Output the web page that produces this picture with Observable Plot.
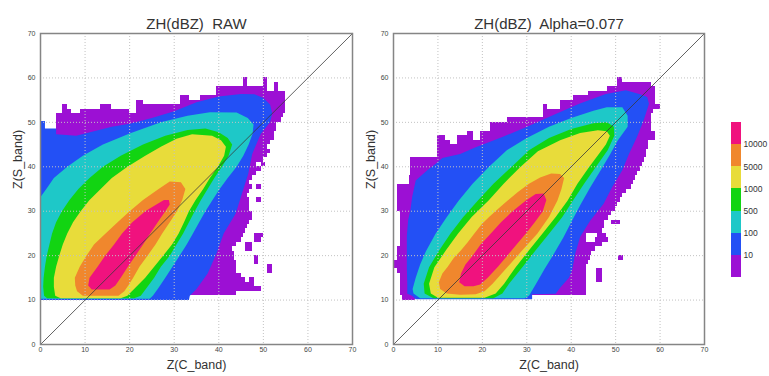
<!DOCTYPE html>
<html><head><meta charset="utf-8">
<script src="https://cdn.jsdelivr.net/npm/d3@7"></script>
<script src="https://cdn.jsdelivr.net/npm/@observablehq/plot@0.6"></script>
<style>
body{margin:0;background:#fff;}
#wrap{position:relative;width:769px;height:376px;overflow:hidden;font-family:"Liberation Sans",Arial,sans-serif;}
#wrap > div{position:absolute;}
</style></head><body>
<div id="wrap"><div id="p1" style="left:0;top:0"></div><div id="p2" style="left:353px;top:0"></div><div id="leg" style="left:720px;top:100px"></div></div>
<script>
// ---- data ----
const tickVals = [0, 10, 20, 30, 40, 50, 60, 70];
const gridVals = [10, 20, 30, 40, 50, 60];
const diag = [0, 70];
const legendLabels = ["10", "100", "500", "1000", "5000", "10000"];
const colPurple = "#9c10d4", colBlue = "#2350f5", colCyan = "#1ec8c8", colGreen = "#12d412",
      colYellow = "#e8dc3a", colOrange = "#f0872d", colPink = "#f0127e";
const legendColors = [colPurple, colBlue, colCyan, colGreen, colYellow, colOrange, colPink];

// RAW panel: count >= 1 cells as [row y, x1, x2]
const rawPurple = [
 [11,0,44],[12,0,49.5],[13,0,48],[14,0,46],[14,47,48],[15,0,45],[16,0,44],[16,51,52],[17,0,44],[17,51,52],
 [18,0,44],[18,48,49],[19,0,43.5],[19,48,49],[20,0,43.5],[21,0,43],[21,46,47.5],[22,0,44],[22,46,47.5],
 [23,0,45],[23,48,49.5],[24,0,45.5],[24,48,50],[25,0,46],[26,0,46.5],[27,0,47],[28,0,47.5],[29,0,47.5],
 [30,0,47],[31,0,47],[32,0,47],[32,48.5,49.5],[33,0,46.5],[34,0,47],[35,0,47.5],[35,48.5,49.5],[36,0,47],
 [37,0,47.5],[38,0,48.5],[39,0,49.5],[40,0,48.5],[40,49.5,50.5],[41,0,50],[42,0,51],[43,0,51.5],[44,0,51],
 [45,0,51.5],[46,0,52.5],[47,3.5,52.5],[48,3.5,53],[49,3.5,53],[50,3.5,54],[51,3.5,54.5],
 [52,5,7],[52,9,20],[52,21.5,55],[53,5,6],[53,13.5,16],[53,21.5,55],[54,21.5,23],[54,31.5,55],
 [55,31.5,33.5],[55,36,55],[56,39.5,55],[57,39.5,51],[57,52.5,53.5],[58,45.5,46.5],[58,50,51],[58,52.5,53.5],
 [59,45.5,46.5],[59,50,51]
];
const rawBlue = [[0,10],[33.3,10],[33.5,11],[35,12.5],[37.5,16],[39.5,20.5],[41.1,25],[43.8,29.5],[45.2,34],[46.6,38.4],[47.5,42.9],[49.4,47.4],[51.5,50],[52,52],[51.5,54],[50,55.5],[48,56.3],[45,56.4],[40,55.8],[35,54.5],[30,52.5],[25,51],[20,49.7],[16,49],[12,48],[8,47],[3.5,47.3],[3.5,48.6],[1,48.6],[1,50.3],[0,50.3]];
const rawCyan = [[0,10.3],[24.5,10.3],[25.2,11],[26.3,12.5],[28,15],[29.6,17.5],[31.2,20],[32.8,22.5],[34.2,25],[35.6,27.5],[37,30],[38.6,32.5],[40.2,35],[42,37.5],[44,40],[45.5,42.5],[46.7,45],[47.6,47.5],[47.8,49.5],[46.5,51],[44,52.2],[38,52.3],[33,51.5],[27,50],[20,47.5],[14,45],[9.5,42.5],[6,40],[3,37.5],[1.3,35],[0,33.2]];
const rawGreen = [[1.5,10.4],[21,10.4],[22.5,11],[24,13],[25.5,15],[27,17.5],[29,20],[30.5,22.5],[32,25],[33.3,27.5],[34.6,30],[36,32.5],[37.5,35],[39,37.5],[40.7,40],[42.2,42.5],[43,45],[42,46.5],[40,47.8],[37,48.6],[33,48.3],[28,47],[23,45],[18,42.5],[14,40],[11,37.5],[8.5,35],[6.5,32.5],[4.8,30],[3.5,27.5],[2.6,25],[2,22.5],[1.4,20],[1,17.5],[0.7,15],[0.6,13],[0.8,11]];
const rawYellow = [[4.5,10.4],[18,10.4],[19.5,11],[21.5,13],[23.5,15],[25.5,17.5],[27.5,20],[29.5,22.5],[31,25],[32.2,27.5],[33.3,30],[34.8,32.5],[36.5,35],[38,37.5],[39.8,40],[41.2,42.5],[41.6,44.5],[40.5,46],[38.5,47],[34,47.3],[30.5,46.3],[27,44.5],[23.5,42.5],[19.5,40],[16,37.5],[13.5,35],[11,32.5],[9,30],[7.3,27.5],[6,25],[5,22.5],[4.2,20],[3.5,17.5],[3,15],[3,13],[3.3,11]];
const rawOrange = [[9.5,11],[17.5,11],[18.8,12],[19.7,13.3],[20.8,15],[22.2,17.5],[24,20],[25.8,22.5],[27.3,25],[29,27.5],[30.6,30],[31.8,32.5],[32.5,35],[31.5,36.5],[29,36.7],[26.5,35],[23,32.5],[20,30],[17.3,27.5],[14.6,25],[12,22.5],[10.3,20],[8.8,17.5],[7.7,15],[7.8,13.3],[8.2,12]];
const rawPink = [[11.5,12.4],[15.5,12.4],[16.8,13.3],[18,15],[19.6,17.5],[21.3,20],[23,22.5],[24.6,25],[26.3,27.5],[28,30],[29,31.5],[28.8,32.5],[27.7,32.5],[26,31.5],[23.5,30],[20.6,27.5],[18.3,25],[16.5,22.5],[14.5,20],[12.8,17.5],[11,15],[10.7,13.3]];

// Alpha=0.077 panel
const alphaPurple = [
 [10,2,5],[11,1.5,43.5],[12,1.5,43.5],[13,1.5,43.5],[14,1.5,43.5],[14,45.8,47],[15,1.5,43.5],[15,45.8,47],
 [16,1,43.5],[16,45.8,47],[17,0,43.5],[18,0,44],[19,1,44.3],[19,50.7,51.8],[20,1,44.5],[21,1,45.5],[22,1.5,47],
 [23,1.5,43.5],[23,45.5,48.5],[24,1.5,43.5],[24,46,48],[25,1.5,47],[26,1.5,47.5],[27,1.5,47.5],[27,49,51],
 [28,1.5,48.5],[29,1.5,49],[30,1,50],[31,1,50.5],[32,1,51],[33,1,51.5],[34,1,52.5],[35,1,53.5],
 [36,3.5,54],[37,3.5,54.5],[38,3.8,55],[39,3.8,55.5],[40,3.8,56],[41,3.8,56.5],
 [42,10,57],[43,10,57],[44,10,57.5],[45,10,12.8],[45,14.3,57.5],[46,10,11.7],[46,14.3,18],[46,19.6,59],
 [47,16.6,18],[47,19.6,59],[48,21.8,58],[49,21.8,58],[50,25.6,58],[51,33.8,58],[52,33.8,58.5],
 [53,33.8,34.6],[53,37.6,60],[54,37.6,59],[55,40.6,59],[56,43.9,59],[57,48.1,59],[58,50.4,58],[59,50.4,51.5]
];
const alphaBlue = [[5,10.2],[31.2,10.2],[31.2,11.3],[36.5,11.4],[37.6,12.9],[39.5,15],[40.2,16.7],[40.9,20.4],[42,24.2],[44.3,27.9],[47.3,31.7],[49.2,35.4],[51.5,39.2],[53,42.9],[54.8,46.7],[56.3,50.4],[57.5,54.2],[57.1,55.7],[55.5,56.3],[52.3,57.2],[47.8,56.4],[41.8,54.2],[36.5,51.9],[29.8,48.9],[24.5,46.7],[18.5,44.4],[15,42.9],[11,42],[9.5,40.7],[7.6,39.2],[5,36.9],[4.2,33.2],[3.8,30.2],[3.3,28],[3,24.5],[3,20],[3,17.4],[3.1,13.6],[3.1,11.4],[4.2,11]];
const alphaCyan = [[6,10.4],[29.5,10.4],[30.5,11],[32,13.5],[34,17],[36.1,20.4],[38.2,24],[40.2,27.9],[42.2,31.7],[44.3,35.4],[46.5,39],[48.8,42.9],[50.5,46],[52.7,49],[52.7,51.5],[51.5,53.4],[48,53.4],[45,52.6],[40,51],[35,49],[30,46.5],[25.5,43.7],[21.5,40],[17.8,36.2],[14.7,32.4],[12,28.7],[9.5,25],[7.3,21],[6,18],[5,15],[4.3,12.5],[4.5,11.5]];
const alphaGreen = [[9,10.4],[22.5,10.4],[24.5,11.5],[26,13.7],[29,17.4],[32,21.2],[35,24.9],[38,28.7],[40.4,32.4],[42.9,36.2],[45.5,39.9],[48.2,43.7],[49.7,47],[49.6,49],[48,50],[45,49.8],[40,48.5],[35,46.5],[30.5,43.7],[26.5,39.9],[22.5,36.2],[19,32.4],[15.7,28.7],[12.8,24.9],[10.3,21.2],[8,17.4],[6.8,13.7],[7,11.5]];
const alphaYellow = [[10,10.5],[20.5,10.5],[23,11.5],[24.9,13.7],[27.5,17.4],[30.5,21.2],[33.5,24.9],[36.5,28.7],[39.2,32.4],[41.4,36.2],[44,39.9],[46.3,43],[47.8,45],[48.7,47],[48,48],[46,48.2],[42,47.6],[37.5,46],[32.5,43.5],[28.5,39.9],[24.8,36.2],[21.4,32.4],[17.6,28.7],[14.5,24.9],[11.8,21.2],[9.2,17.4],[8,13.7],[8.4,11.5]];
const alphaOrange = [[12,11.5],[15,11.2],[18.5,11.3],[20.5,12],[22.3,13.7],[25.7,17.5],[29,21.2],[32.4,25],[35,28.7],[36.9,32.4],[37.8,35],[38.4,37.5],[37.5,38.4],[35.5,38.5],[33,37.6],[30.5,36.2],[28,34.3],[25.7,32.4],[23.5,30.5],[21.5,28.7],[19.8,27],[18.2,25],[16.7,23],[15.2,21.2],[13.6,19.5],[12.2,17.5],[11,16],[10.2,14],[10.5,12.5]];
const alphaPink = [[16,13.1],[18,13.1],[19.5,13.5],[21.2,15],[23.5,17.5],[25.6,20],[27.7,22.5],[29.8,25],[31.8,27.5],[33.6,30],[34.4,32.5],[33.8,34],[32,33.9],[29.8,32.4],[26.8,30],[24.2,27.5],[21.9,25],[19.6,22.5],[17.8,20],[16.2,18],[15.2,16],[14.8,14]];

// ---- drawing ----
const FONT = "'Liberation Sans', Arial, sans-serif";
function panel(title, purple, polys, width, marginRight) {
  return Plot.plot({
    width, height: 376,
    marginLeft: 40, marginRight, marginTop: 33, marginBottom: 32,
    style: {fontFamily: FONT, fontSize: "7px", color: "#444", background: "transparent", overflow: "visible"},
    x: {domain: [0, 70], ticks: tickVals, tickSize: 0, tickPadding: 3, label: null},
    y: {domain: [0, 70], ticks: tickVals, tickSize: 0, tickPadding: 5, label: null},
    marks: [
      Plot.rect(purple, {x1: d => d[1], x2: d => d[2], y1: d => d[0], y2: d => d[0] + 1,
        fill: colPurple, shapeRendering: "crispEdges"}),
      ...polys.map(([pts, col]) => Plot.line(pts, {x: d => d[0], y: d => d[1], fill: col,
        stroke: "none", curve: "linear-closed"})),
      Plot.ruleX(gridVals, {stroke: "#c2c2c2", strokeDasharray: "1,2", strokeWidth: 1}),
      Plot.ruleY(gridVals, {stroke: "#c2c2c2", strokeDasharray: "1,2", strokeWidth: 1}),
      Plot.line(diag, {x: d => d, y: d => d, stroke: "#3a3a3a", strokeWidth: 0.8}),
      Plot.frame({stroke: "#858585", strokeWidth: 1.5}),
      Plot.text([title], {text: d => d, frameAnchor: "top", lineAnchor: "bottom", dy: -5,
        fontSize: 15, fill: "#333"}),
      Plot.text(["Z(C_band)"], {text: d => d, frameAnchor: "bottom", dy: 24, fontSize: 12.5, fill: "#333"}),
      Plot.text(["Z(S_band)"], {text: d => d, frameAnchor: "left", dx: -23, rotate: -90, fontSize: 12.5, fill: "#333"})
    ]
  });
}

document.getElementById("p1").append(panel("ZH(dBZ)  RAW", rawPurple,
  [[rawBlue, colBlue], [rawCyan, colCyan], [rawGreen, colGreen], [rawYellow, colYellow], [rawOrange, colOrange], [rawPink, colPink]],
  380, 28));
document.getElementById("p2").append(panel("ZH(dBZ)  Alpha=0.077", alphaPurple,
  [[alphaBlue, colBlue], [alphaCyan, colCyan], [alphaGreen, colGreen], [alphaYellow, colYellow], [alphaOrange, colOrange], [alphaPink, colPink]],
  370, 19));

document.getElementById("leg").append(Plot.plot({
  width: 49, height: 190, marginLeft: 11, marginRight: 28, marginTop: 22, marginBottom: 13,
  style: {fontFamily: FONT, background: "transparent", overflow: "visible", color: "#333"},
  x: {domain: [0, 1], axis: null},
  y: {domain: [0, 7], axis: null},
  color: {type: "identity"},
  marks: [
    Plot.rect(legendColors, {x1: 0, x2: 1, y1: (d, i) => i, y2: (d, i) => i + 1, fill: d => d, shapeRendering: "crispEdges"}),
    Plot.text(legendLabels, {x: 1, y: (d, i) => i + 1, text: d => d, dx: 2, textAnchor: "start", fontSize: 8.5, fill: "#333"})
  ]
}));
</script>
</body></html>
